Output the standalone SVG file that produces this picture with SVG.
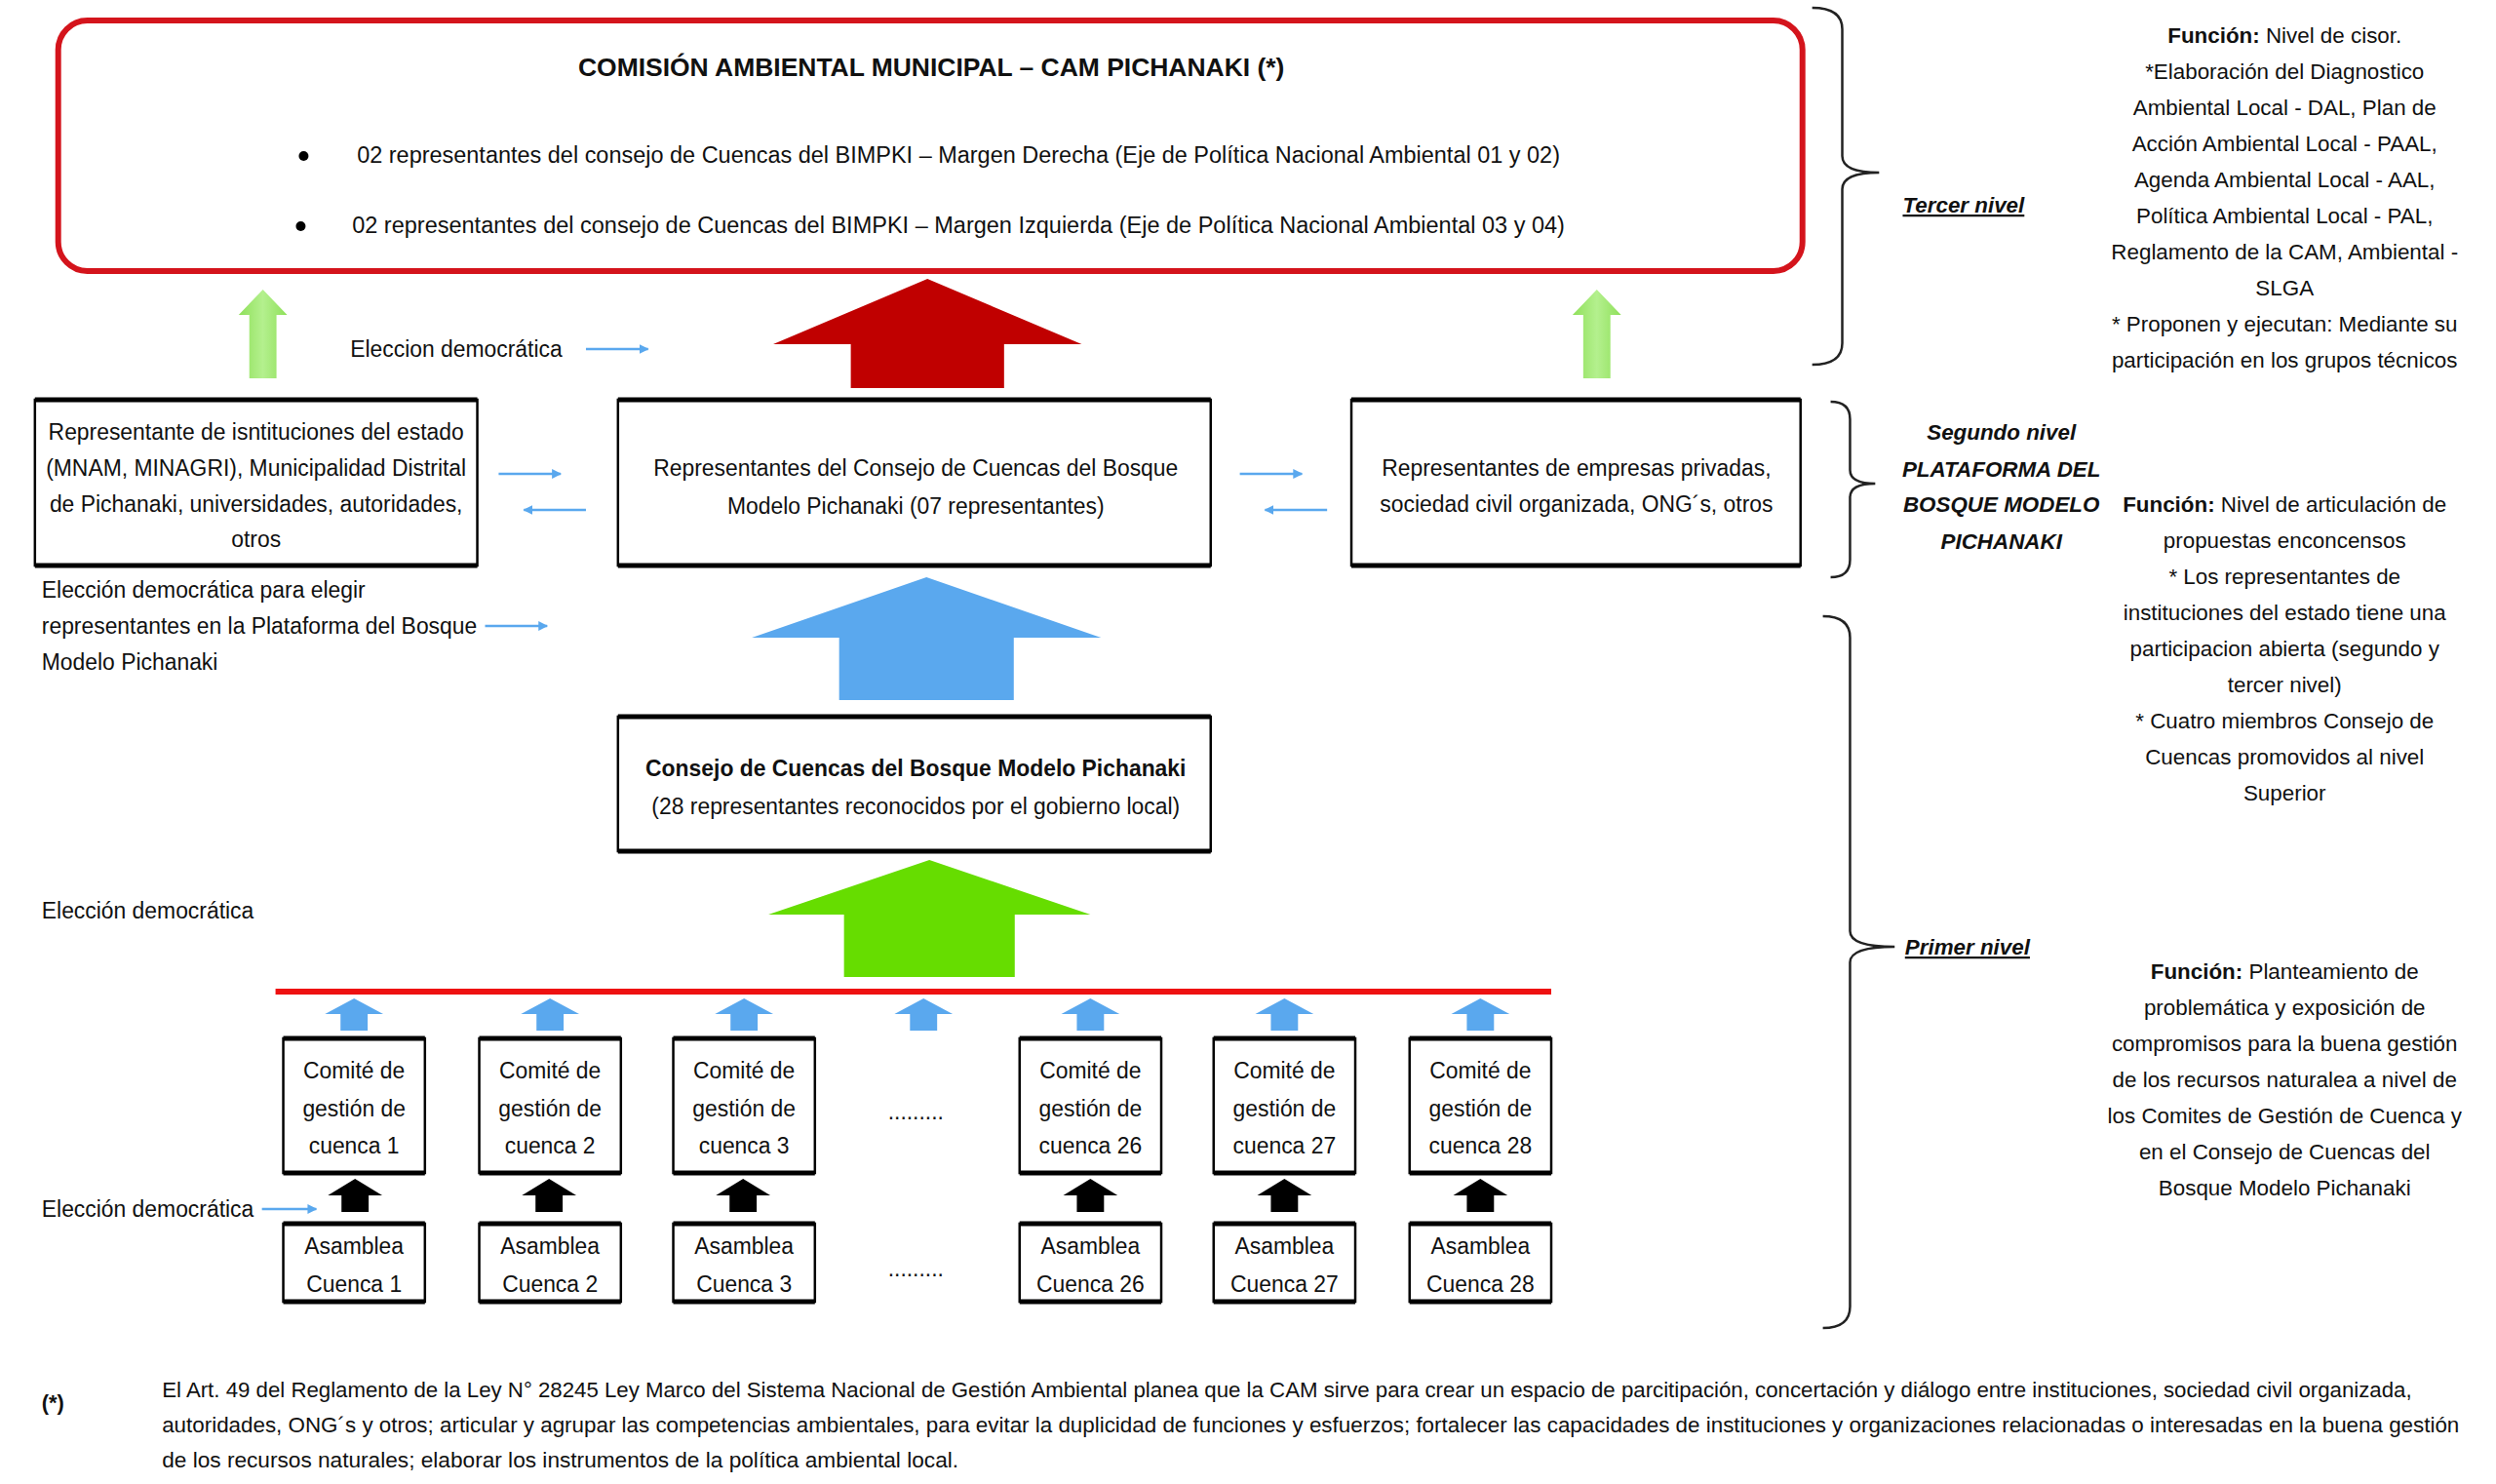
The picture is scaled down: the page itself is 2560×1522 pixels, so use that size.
<svg xmlns="http://www.w3.org/2000/svg" width="2560" height="1522" viewBox="0 0 2560 1522">
<style>
text{font-family:"Liberation Sans",Arial,sans-serif;fill:#111;}
.t{font-size:23px;}
.c{text-anchor:middle;}
.b{font-weight:bold;}
.r{font-size:22.5px;text-anchor:middle;}
.lvl{font-size:22.5px;font-weight:bold;font-style:italic;text-anchor:middle;}
.box{fill:#fff;stroke:#000;stroke-width:2.5;}
.edge{stroke:#000;stroke-width:5;}
.thin{stroke:#5aa8ee;stroke-width:2.5;fill:none;marker-end:url(#ah);}
.brace{fill:none;stroke:#222;stroke-width:2.5;}
.sb{fill:#5aa8ee;}
.bk{fill:#000;}
.fn{font-size:22px;}
</style>
<defs>
<marker id="ah" viewBox="0 0 10 10" refX="9" refY="5" markerWidth="4" markerHeight="4" orient="auto" markerUnits="strokeWidth">
<path d="M0,0 L10,5 L0,10 z" fill="#5aa8ee"/>
</marker>
<linearGradient id="lg" x1="0" y1="0" x2="1" y2="0">
<stop offset="0" stop-color="#8fe05a"/><stop offset="0.5" stop-color="#b4f08e"/><stop offset="1" stop-color="#8fe05a"/>
</linearGradient>
</defs>
<rect width="2560" height="1522" fill="#fff"/>
<g transform="scale(0.995,1)">
<g id="cam">
<rect x="60" y="21" width="1798" height="257" rx="30" fill="#fff" stroke="#d4141c" stroke-width="6"/>
<text x="960" y="78" class="c b" font-size="26" textLength="728" lengthAdjust="spacingAndGlyphs">COMISIÓN AMBIENTAL MUNICIPAL – CAM PICHANAKI (*)</text>
<circle cx="313" cy="160" r="5" fill="#000"/>
<text x="368" y="167" class="t" textLength="1240" lengthAdjust="spacingAndGlyphs">02 representantes del consejo de Cuencas del BIMPKI – Margen Derecha (Eje de Política Nacional Ambiental 01 y 02)</text>
<circle cx="310" cy="232" r="5" fill="#000"/>
<text x="363" y="239" class="t" textLength="1250" lengthAdjust="spacingAndGlyphs">02 representantes del consejo de Cuencas del BIMPKI – Margen Izquierda (Eje de Política Nacional Ambiental 03 y 04)</text>
</g>

<g id="estado">
<rect class="box" x="36" y="410" width="456" height="170"/>
<line class="edge" x1="36" y1="410" x2="492" y2="410"/><line class="edge" x1="36" y1="580" x2="492" y2="580"/>
<text class="t c" x="264" y="451">Representante de isntituciones del estado</text>
<text class="t c" x="264" y="488">(MNAM, MINAGRI), Municipalidad Distrital</text>
<text class="t c" x="264" y="525">de Pichanaki, universidades, autoridades,</text>
<text class="t c" x="264" y="561">otros</text>
</g>

<g id="plataforma">
<rect class="box" x="637" y="410" width="611" height="170"/>
<line class="edge" x1="637" y1="410" x2="1248" y2="410"/><line class="edge" x1="637" y1="580" x2="1248" y2="580"/>
<text class="t c" x="944" y="488">Representantes del Consejo de Cuencas del Bosque</text>
<text class="t c" x="944" y="527">Modelo Pichanaki (07 representantes)</text>
</g>

<g id="privadas">
<rect class="box" x="1393" y="410" width="463" height="170"/>
<line class="edge" x1="1393" y1="410" x2="1856" y2="410"/><line class="edge" x1="1393" y1="580" x2="1856" y2="580"/>
<text class="t c" x="1625" y="488">Representantes de empresas privadas,</text>
<text class="t c" x="1625" y="525">sociedad civil organizada, ONG´s, otros</text>
</g>

<g id="consejo">
<rect class="box" x="637" y="735" width="611" height="138"/>
<line class="edge" x1="637" y1="735" x2="1248" y2="735"/><line class="edge" x1="637" y1="873" x2="1248" y2="873"/>
<text class="t c b" x="944" y="796">Consejo de Cuencas del Bosque Modelo Pichanaki</text>
<text class="t c" x="944" y="835">(28 representantes reconocidos por el gobierno local)</text>
</g>

<g id="comites">
<g id="comite1"><rect class="box" x="292" y="1065" width="146" height="138"/><line class="edge" x1="292" y1="1065" x2="438" y2="1065"/><line class="edge" x1="292" y1="1203" x2="438" y2="1203"/>
<text class="t c" x="365" y="1106">Comité de</text><text class="t c" x="365" y="1145">gestión de</text><text class="t c" x="365" y="1183">cuenca 1</text></g>
<g id="comite2"><rect class="box" x="494" y="1065" width="146" height="138"/><line class="edge" x1="494" y1="1065" x2="640" y2="1065"/><line class="edge" x1="494" y1="1203" x2="640" y2="1203"/>
<text class="t c" x="567" y="1106">Comité de</text><text class="t c" x="567" y="1145">gestión de</text><text class="t c" x="567" y="1183">cuenca 2</text></g>
<g id="comite3"><rect class="box" x="694" y="1065" width="146" height="138"/><line class="edge" x1="694" y1="1065" x2="840" y2="1065"/><line class="edge" x1="694" y1="1203" x2="840" y2="1203"/>
<text class="t c" x="767" y="1106">Comité de</text><text class="t c" x="767" y="1145">gestión de</text><text class="t c" x="767" y="1183">cuenca 3</text></g>
<text class="t c" x="944" y="1148">.........</text>
<g id="comite26"><rect class="box" x="1051" y="1065" width="146" height="138"/><line class="edge" x1="1051" y1="1065" x2="1197" y2="1065"/><line class="edge" x1="1051" y1="1203" x2="1197" y2="1203"/>
<text class="t c" x="1124" y="1106">Comité de</text><text class="t c" x="1124" y="1145">gestión de</text><text class="t c" x="1124" y="1183">cuenca 26</text></g>
<g id="comite27"><rect class="box" x="1251" y="1065" width="146" height="138"/><line class="edge" x1="1251" y1="1065" x2="1397" y2="1065"/><line class="edge" x1="1251" y1="1203" x2="1397" y2="1203"/>
<text class="t c" x="1324" y="1106">Comité de</text><text class="t c" x="1324" y="1145">gestión de</text><text class="t c" x="1324" y="1183">cuenca 27</text></g>
<g id="comite28"><rect class="box" x="1453" y="1065" width="146" height="138"/><line class="edge" x1="1453" y1="1065" x2="1599" y2="1065"/><line class="edge" x1="1453" y1="1203" x2="1599" y2="1203"/>
<text class="t c" x="1526" y="1106">Comité de</text><text class="t c" x="1526" y="1145">gestión de</text><text class="t c" x="1526" y="1183">cuenca 28</text></g>
</g>

<g id="asambleas">
<g id="asamblea1"><rect class="box" x="292" y="1255" width="146" height="80"/><line class="edge" x1="292" y1="1255" x2="438" y2="1255"/><line class="edge" x1="292" y1="1335" x2="438" y2="1335"/>
<text class="t c" x="365" y="1286">Asamblea</text><text class="t c" x="365" y="1325">Cuenca 1</text></g>
<g id="asamblea2"><rect class="box" x="494" y="1255" width="146" height="80"/><line class="edge" x1="494" y1="1255" x2="640" y2="1255"/><line class="edge" x1="494" y1="1335" x2="640" y2="1335"/>
<text class="t c" x="567" y="1286">Asamblea</text><text class="t c" x="567" y="1325">Cuenca 2</text></g>
<g id="asamblea3"><rect class="box" x="694" y="1255" width="146" height="80"/><line class="edge" x1="694" y1="1255" x2="840" y2="1255"/><line class="edge" x1="694" y1="1335" x2="840" y2="1335"/>
<text class="t c" x="767" y="1286">Asamblea</text><text class="t c" x="767" y="1325">Cuenca 3</text></g>
<text class="t c" x="944" y="1309">.........</text>
<g id="asamblea26"><rect class="box" x="1051" y="1255" width="146" height="80"/><line class="edge" x1="1051" y1="1255" x2="1197" y2="1255"/><line class="edge" x1="1051" y1="1335" x2="1197" y2="1335"/>
<text class="t c" x="1124" y="1286">Asamblea</text><text class="t c" x="1124" y="1325">Cuenca 26</text></g>
<g id="asamblea27"><rect class="box" x="1251" y="1255" width="146" height="80"/><line class="edge" x1="1251" y1="1255" x2="1397" y2="1255"/><line class="edge" x1="1251" y1="1335" x2="1397" y2="1335"/>
<text class="t c" x="1324" y="1286">Asamblea</text><text class="t c" x="1324" y="1325">Cuenca 27</text></g>
<g id="asamblea28"><rect class="box" x="1453" y="1255" width="146" height="80"/><line class="edge" x1="1453" y1="1255" x2="1599" y2="1255"/><line class="edge" x1="1453" y1="1335" x2="1599" y2="1335"/>
<text class="t c" x="1526" y="1286">Asamblea</text><text class="t c" x="1526" y="1325">Cuenca 28</text></g>
</g>

<g id="connectors">
<polygon fill="#c00000" points="956,286 1115,353 1035,353 1035,398 877,398 877,353 797,353"/>
<polygon fill="url(#lg)" points="271,297 296,323 285,323 285,388 257,388 257,323 246,323"/>
<polygon fill="url(#lg)" points="1646,297 1671,323 1660,323 1660,388 1632,388 1632,323 1621,323"/>
<polygon fill="#5aa8ee" points="955,592 1135,654 1045,654 1045,718 865,718 865,654 775,654"/>
<polygon fill="#66dd00" points="958,882 1124,938 1046,938 1046,1002 870,1002 870,938 792,938"/>
<line x1="284" y1="1017" x2="1599" y2="1017" stroke="#ee1111" stroke-width="6"/>
<polygon class="sb" points="365,1024 395,1040 379,1040 379,1057 351,1057 351,1040 335,1040"/>
<polygon class="sb" points="567,1024 597,1040 581,1040 581,1057 553,1057 553,1040 537,1040"/>
<polygon class="sb" points="767,1024 797,1040 781,1040 781,1057 753,1057 753,1040 737,1040"/>
<polygon class="sb" points="952,1024 982,1040 966,1040 966,1057 938,1057 938,1040 922,1040"/>
<polygon class="sb" points="1124,1024 1154,1040 1138,1040 1138,1057 1110,1057 1110,1040 1094,1040"/>
<polygon class="sb" points="1324,1024 1354,1040 1338,1040 1338,1057 1310,1057 1310,1040 1294,1040"/>
<polygon class="sb" points="1526,1024 1556,1040 1540,1040 1540,1057 1512,1057 1512,1040 1496,1040"/>
<polygon class="bk" points="366,1209 394,1226 380,1226 380,1243 352,1243 352,1226 338,1226"/>
<polygon class="bk" points="566,1209 594,1226 580,1226 580,1243 552,1243 552,1226 538,1226"/>
<polygon class="bk" points="766,1209 794,1226 780,1226 780,1243 752,1243 752,1226 738,1226"/>
<polygon class="bk" points="1124,1209 1152,1226 1138,1226 1138,1243 1110,1243 1110,1226 1096,1226"/>
<polygon class="bk" points="1324,1209 1352,1226 1338,1226 1338,1243 1310,1243 1310,1226 1296,1226"/>
<polygon class="bk" points="1526,1209 1554,1226 1540,1226 1540,1243 1512,1243 1512,1226 1498,1226"/>
<line class="thin" x1="604" y1="358" x2="668" y2="358"/>
<line class="thin" x1="514" y1="486" x2="578" y2="486"/>
<line class="thin" x1="604" y1="523" x2="540" y2="523"/>
<line class="thin" x1="1278" y1="486" x2="1342" y2="486"/>
<line class="thin" x1="1368" y1="523" x2="1304" y2="523"/>
<line class="thin" x1="500" y1="642" x2="564" y2="642"/>
<line class="thin" x1="270" y1="1240" x2="326" y2="1240"/>
</g>

<g id="labels">
<text class="t" x="361" y="366">Eleccion democrática</text>
<text class="t" x="43" y="613">Elección democrática para elegir</text>
<text class="t" x="43" y="650">representantes en la Plataforma del Bosque</text>
<text class="t" x="43" y="687">Modelo Pichanaki</text>
<text class="t" x="43" y="942">Elección democrática</text>
<text class="t" x="43" y="1248">Elección democrática</text>
</g>

<g id="braces">
<path class="brace" d="M1868,8 Q1899,8 1899,30 L1899,160 Q1899,177 1937,177 Q1899,177 1899,194 L1899,352 Q1899,374 1868,374"/>
<path class="brace" d="M1887,412 Q1907,412 1907,430 L1907,482 Q1907,496 1933,496 Q1907,496 1907,510 L1907,574 Q1907,592 1887,592"/>
<path class="brace" d="M1879,632 Q1907,632 1907,654 L1907,955 Q1907,971 1953,971 Q1907,971 1907,987 L1907,1340 Q1907,1362 1879,1362"/>
</g>

<g id="niveles">
<text class="lvl" x="2024" y="218" text-decoration="underline">Tercer nivel</text>
<text class="lvl" x="2063" y="451">Segundo nivel</text>
<text class="lvl" x="2063" y="489">PLATAFORMA DEL</text>
<text class="lvl" x="2063" y="525">BOSQUE MODELO</text>
<text class="lvl" x="2063" y="563">PICHANAKI</text>
<text class="lvl" x="2028" y="979" text-decoration="underline">Primer nivel</text>
</g>

<g id="funciones">
<text class="r" x="2355" y="44"><tspan font-weight="bold">Función:</tspan> Nivel de cisor.</text>
<text class="r" x="2355" y="81">*Elaboración del Diagnostico</text>
<text class="r" x="2355" y="118">Ambiental Local - DAL, Plan de</text>
<text class="r" x="2355" y="155">Acción Ambiental Local - PAAL,</text>
<text class="r" x="2355" y="192">Agenda Ambiental Local - AAL,</text>
<text class="r" x="2355" y="229">Política Ambiental Local - PAL,</text>
<text class="r" x="2355" y="266">Reglamento de la CAM, Ambiental -</text>
<text class="r" x="2355" y="303">SLGA</text>
<text class="r" x="2355" y="340">* Proponen y ejecutan: Mediante su</text>
<text class="r" x="2355" y="377">participación en los grupos técnicos</text>

<text class="r" x="2355" y="525"><tspan font-weight="bold">Función:</tspan> Nivel de articulación de</text>
<text class="r" x="2355" y="562">propuestas enconcensos</text>
<text class="r" x="2355" y="599">* Los representantes de</text>
<text class="r" x="2355" y="636">instituciones del estado tiene una</text>
<text class="r" x="2355" y="673">participacion abierta (segundo y</text>
<text class="r" x="2355" y="710">tercer nivel)</text>
<text class="r" x="2355" y="747">* Cuatro miembros Consejo de</text>
<text class="r" x="2355" y="784">Cuencas promovidos al nivel</text>
<text class="r" x="2355" y="821">Superior</text>

<text class="r" x="2355" y="1004"><tspan font-weight="bold">Función:</tspan> Planteamiento de</text>
<text class="r" x="2355" y="1041">problemática y exposición de</text>
<text class="r" x="2355" y="1078">compromisos para la buena gestión</text>
<text class="r" x="2355" y="1115">de los recursos naturalea a nivel de</text>
<text class="r" x="2355" y="1152">los Comites de Gestión de Cuenca y</text>
<text class="r" x="2355" y="1189">en el Consejo de Cuencas del</text>
<text class="r" x="2355" y="1226">Bosque Modelo Pichanaki</text>
</g>

<g id="nota">
<text class="fn b" x="43" y="1446">(*)</text>
<text class="fn" x="167" y="1433" textLength="2319" lengthAdjust="spacingAndGlyphs">El Art. 49 del Reglamento de la Ley N° 28245 Ley Marco del Sistema Nacional de Gestión Ambiental planea que la CAM sirve para crear un espacio de parcitipación, concertación y diálogo entre instituciones, sociedad civil organizada,</text>
<text class="fn" x="167" y="1469" textLength="2368" lengthAdjust="spacingAndGlyphs">autoridades, ONG´s y otros; articular y agrupar las competencias ambientales, para evitar la duplicidad de funciones y esfuerzos; fortalecer las capacidades de instituciones y organizaciones relacionadas o interesadas en la buena gestión</text>
<text class="fn" x="167" y="1505" textLength="821" lengthAdjust="spacingAndGlyphs">de los recursos naturales; elaborar los instrumentos de la política ambiental local.</text>
</g>
</g>
</svg>
